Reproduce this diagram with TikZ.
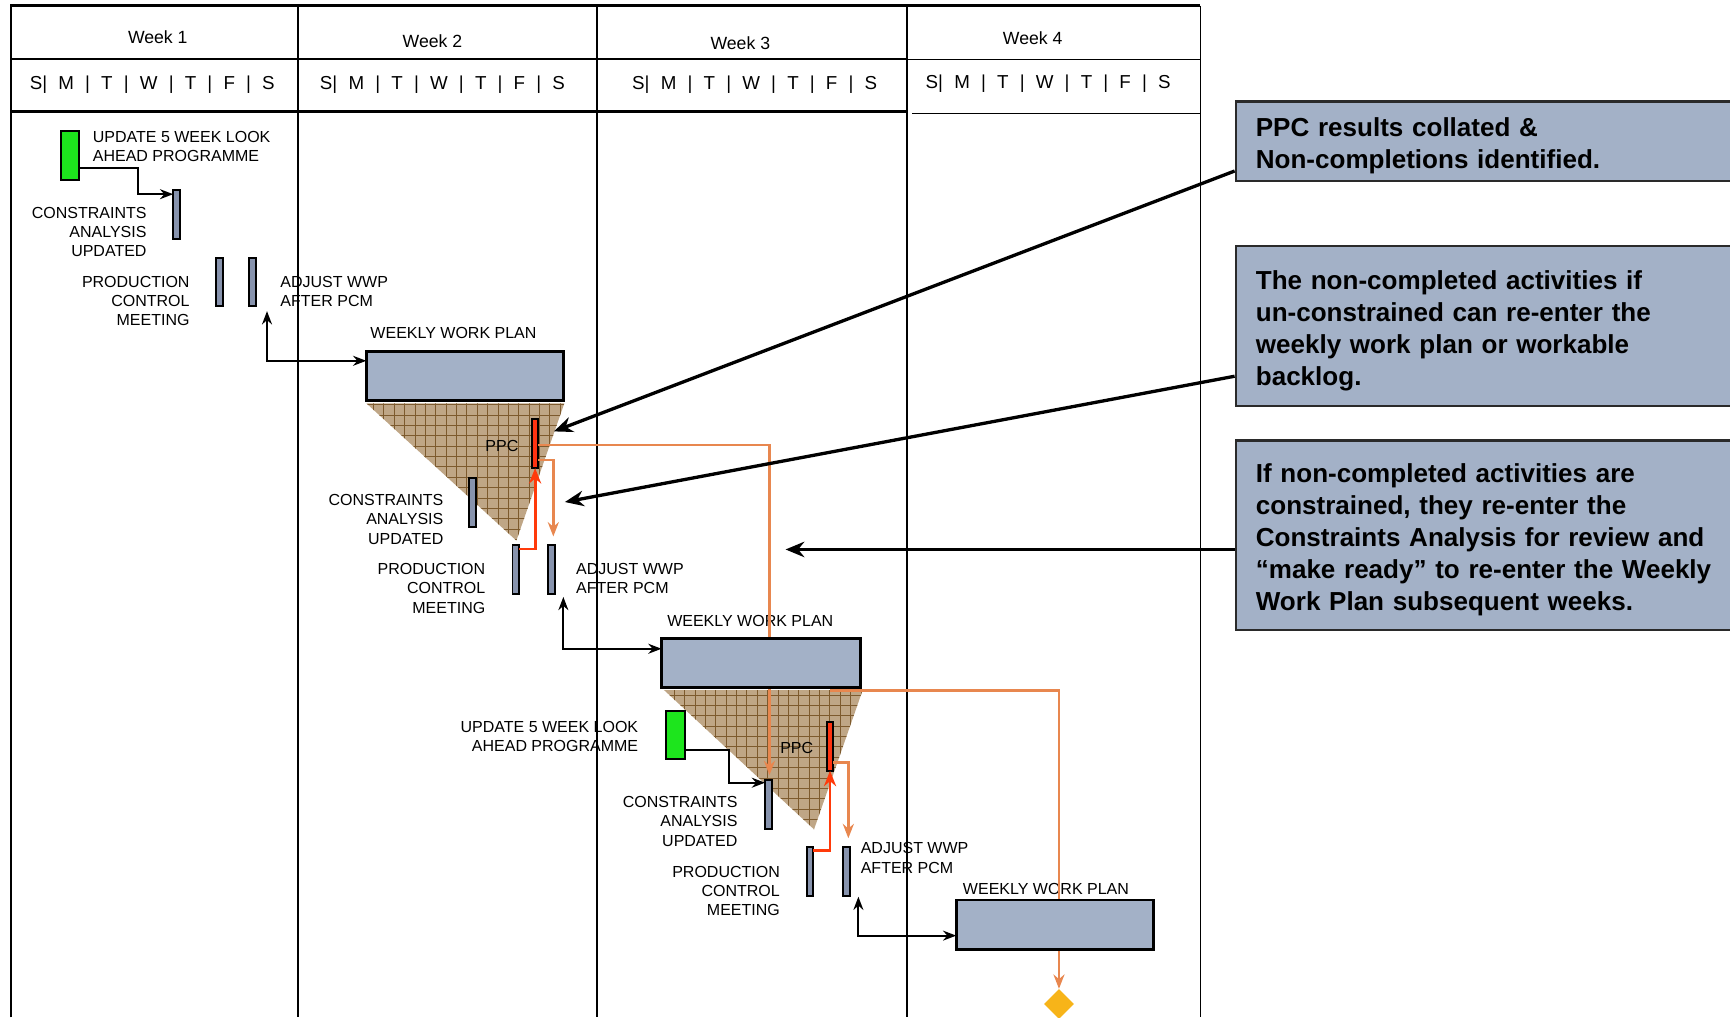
\documentclass[tikz,border=0pt]{standalone}
\usepackage{fontspec}
\setmainfont{Liberation Sans}
\usetikzlibrary{arrows.meta,shapes.geometric,calc}
\definecolor{boxfill}{HTML}{A3B1C7}
\definecolor{barfill}{HTML}{8793AD}
\definecolor{greenc}{HTML}{1DE51D}
\definecolor{ppcred}{HTML}{FF3311}
\definecolor{redc}{HTML}{FF3A0A}
\definecolor{orangec}{HTML}{E8874F}
\definecolor{diamc}{HTML}{F7B419}
\definecolor{trifill}{HTML}{BFA686}
\definecolor{gridc}{HTML}{7D5A2E}
\definecolor{anncol}{HTML}{2A2A2A}
\begin{document}
\begin{tikzpicture}[x=1pt,y=-1pt,
  bar/.style={draw=black, line width=1.8pt, fill=barfill, inner sep=0pt, outer sep=0pt, minimum width=6pt, minimum height=44.5pt},
  ppcbar/.style={bar, fill=ppcred},
  greenbar/.style={bar, fill=greenc, minimum width=17pt, minimum height=44pt},
  wwp/.style={draw=black, line width=2.6pt, fill=boxfill, minimum width=179pt, minimum height=44.5pt, inner sep=0pt, outer sep=0pt},
  lbl/.style={font=\fontsize{14.5}{17.4}\selectfont, inner sep=0pt},
  hdr/.style={font=\fontsize{16}{19}\selectfont, inner sep=0pt},
  dayhdr/.style={font=\fontsize{17}{20}\selectfont, inner sep=0pt},
  conn/.style={line width=2pt, -{Stealth[length=12pt,width=9pt]}},
  dbl/.style={line width=2pt, {Stealth[length=12pt,width=9pt]}-{Stealth[length=12pt,width=9pt]}},
  orarr/.style={draw=orangec, line width=2.2pt, -{Stealth[length=13pt,width=10pt]}},
  redarr/.style={draw=redc, line width=2.6pt, -{Stealth[length=14pt,width=11pt]}},
  annarr/.style={line width=3pt, -{Stealth[length=17pt,width=14pt]}},
  ann/.style={draw=anncol, line width=2.5pt, fill=boxfill, anchor=west, text width=430pt, inner xsep=18pt, inner ysep=0pt, align=left, font=\fontsize{23.6}{29}\selectfont\bfseries},
  frame/.style={line width=2.2pt},
  thinframe/.style={line width=1.4pt}
]
\useasboundingbox (0,0) rectangle (1568,922);

% ---------- grid frame ----------
\draw[frame] (10,922) -- (10,5) -- (822,5);
\draw[frame] (822,5) -- (1088,5);
\draw[thinframe] (1088,5) -- (1088,922);
\draw[frame] (270,5) -- (270,922);
\draw[frame] (541,5) -- (541,922);
\draw[frame] (822,5) -- (822,922);
\draw[frame] (10,53.5) -- (822,53.5);
\draw[thinframe] (822,54) -- (1088,54);
\draw[frame] (10,101) -- (822,101);
\draw[thinframe] (827,103) -- (1088,103);

\node[hdr] (w1) at (143,34) {Week 1};
\node[hdr] (w2) at (392,37) {Week 2};
\node[hdr] (w3) at (671,39) {Week 3};
\node[hdr] (w4) at (936,35) {Week 4};
\node[dayhdr] (d1) at (138,77) {\makebox[222pt][s]{S| M | T | W | T | F | S}};
\node[dayhdr] (d2) at (401,77) {\makebox[222pt][s]{S| M | T | W | T | F | S}};
\node[dayhdr] (d3) at (684,77) {\makebox[222pt][s]{S| M | T | W | T | F | S}};
\node[dayhdr] (d4) at (950,76) {\makebox[222pt][s]{S| M | T | W | T | F | S}};

% ---------- triangles ----------
\begin{scope}
\clip (332,365.5) -- (511.5,365.5) -- (468,490) -- cycle;
\fill[trifill] (320,360) rectangle (520,495);
\draw[gridc, line width=0.5pt, step=9.4pt] (320,495) grid (520,360);
\end{scope}
\begin{scope}
\clip (601.8,625.4) -- (781.9,625.4) -- (737.8,751.7) -- cycle;
\fill[trifill] (590,620) rectangle (790,760);
\draw[gridc, line width=0.5pt, step=9.4pt] (590,760) grid (790,620);
\end{scope}

% ---------- week 1 ----------
\node[greenbar] (g1) at (63.5,141) {};
\node[lbl, anchor=west, align=left] (ug1) at (84,133) {UPDATE 5 WEEK LOOK\\AHEAD PROGRAMME};
\node[bar] (cb1) at (160,194.5) {};
\node[lbl, anchor=east, align=right] (cl1) at (133,210) {CONSTRAINTS\\ANALYSIS\\UPDATED};
\node[bar, minimum height=43pt] (pcm1) at (199,255.5) {};
\node[bar, minimum height=43pt] (adj1) at (229,255.5) {};
\node[lbl, anchor=east, align=right] (pl1) at (172,273) {PRODUCTION\\CONTROL\\MEETING};
\node[lbl, anchor=west, align=left] (al1) at (254,264.5) {ADJUST WWP\\AFTER PCM};
\draw[conn] ([yshift=-11pt]g1.east) -- (125,152) -- (125,176) -- ([yshift=18.5pt]cb1.west);

% ---------- week 2 ----------
\node[lbl] (wl1) at (411,302) {WEEKLY WORK PLAN};
\node[ppcbar] (ppc1) at (485,402) {};
\node[lbl, anchor=east] (pp1) at (470,404) {PPC};
\node[bar] (cb2) at (428.4,455.5) {};
\node[lbl, anchor=east, align=right] (cl2) at (402,470.7) {CONSTRAINTS\\ANALYSIS\\UPDATED};
\node[bar] (pcm2) at (467.5,516) {};
\node[bar] (adj2) at (500,516) {};
\node[lbl, anchor=east, align=right] (pl2) at (440,533.3) {PRODUCTION\\CONTROL\\MEETING};
\node[lbl, anchor=west, align=left] (al2) at (522,524.5) {ADJUST WWP\\AFTER PCM};

% ---------- week 3 ----------
\node[lbl] (wl2) at (680,562.6) {WEEKLY WORK PLAN};
\node[greenbar] (g2) at (612.3,666) {};
\node[lbl, anchor=east, align=right] (ug2) at (578.6,667.3) {UPDATE 5 WEEK LOOK\\AHEAD PROGRAMME};
\node[bar] (cb3) at (696.4,729.4) {};
\node[lbl, anchor=east, align=right] (cl3) at (668.6,744.4) {CONSTRAINTS\\ANALYSIS\\UPDATED};
\node[ppcbar] (ppc2) at (752.3,676.3) {};
\node[lbl, anchor=east] (pp2) at (737.2,678.3) {PPC};
\node[bar] (pcm3) at (734.2,789.6) {};
\node[bar] (adj3) at (767.4,789.6) {};
\node[lbl, anchor=east, align=right] (pl3) at (707,807.3) {PRODUCTION\\CONTROL\\MEETING};
\node[lbl, anchor=west, align=left] (al3) at (780,777.6) {ADJUST WWP\\AFTER PCM};
\node[lbl] (wl3) at (948,806) {WEEKLY WORK PLAN};
\node[diamond, fill=diamc, inner sep=0pt, minimum width=27.2pt, minimum height=27.2pt] (dm) at (959.8,910) {};

% ---------- orange lines (under boxes) ----------
\coordinate (o3) at (752.3,626);
\draw[orarr] ([yshift=-1.3pt]ppc1.east) -| ([yshift=4.6pt,xshift=1pt]cb3.north);
\draw[orarr] ([yshift=-15pt]ppc1.east) -| ([xshift=1.5pt,yshift=7.5pt]adj2.north);
\draw[orarr] (o3) -| (dm.north);
\draw[orarr] ([yshift=-14.7pt]ppc2.east) -| ([xshift=1.5pt,yshift=7.6pt]adj3.north);

% ---------- boxes ----------
\node[wwp] (wwp1) at (421.5,340.5) {};
\node[wwp, minimum width=180pt] (wwp2) at (689.6,600.8) {};
\node[wwp] (wwp3) at (956.2,838) {};

% ---------- black & red connectors ----------
\coordinate (a1) at (242,282);
\coordinate (a2) at (510.6,541);
\coordinate (a3) at (778,812.7);
\draw[dbl] (a1) |- ([yshift=13.5pt]wwp1.west);
\draw[dbl] (a2) |- ([yshift=12.8pt]wwp2.west);
\draw[dbl] (a3) |- ([yshift=-10pt]wwp3.west);
\draw[conn] ([yshift=-13.8pt]g2.east) -- (661,679.8) -- (661,709.4) -- ([yshift=20pt]cb3.west);
\draw[redarr] ([yshift=18.4pt]pcm2.east) -| (ppc1.south);
\draw[redarr] ([yshift=18.6pt]pcm3.east) -| (ppc2.south);

% ---------- annotations ----------
\node[ann, minimum height=72pt] (n1) at (1119,128) {\rule{0pt}{25pt}PPC results collated \&\\Non-completions identified.};
\node[ann, minimum height=145pt] (n2) at (1119,295.5) {\rule{0pt}{25pt}The non-completed activities if\\un-constrained can re-enter the\\weekly work plan or workable\\backlog.};
\node[ann, minimum height=172pt] (n3) at (1119,485) {\rule{0pt}{25pt}If non-completed activities are\\constrained, they re-enter the\\Constraints Analysis for review and\\“make ready” to re-enter the Weekly\\Work Plan subsequent weeks.};
\coordinate (t1) at (502,391);
\coordinate (t2) at (512,455);
\coordinate (t3) at (712,498);
\draw[annarr] ([yshift=-27pt]n1.west) -- (t1);
\draw[annarr] ([yshift=-45.5pt]n2.west) -- (t2);
\draw[annarr] ([yshift=-13pt]n3.west) -- (t3);
\end{tikzpicture}
\end{document}
